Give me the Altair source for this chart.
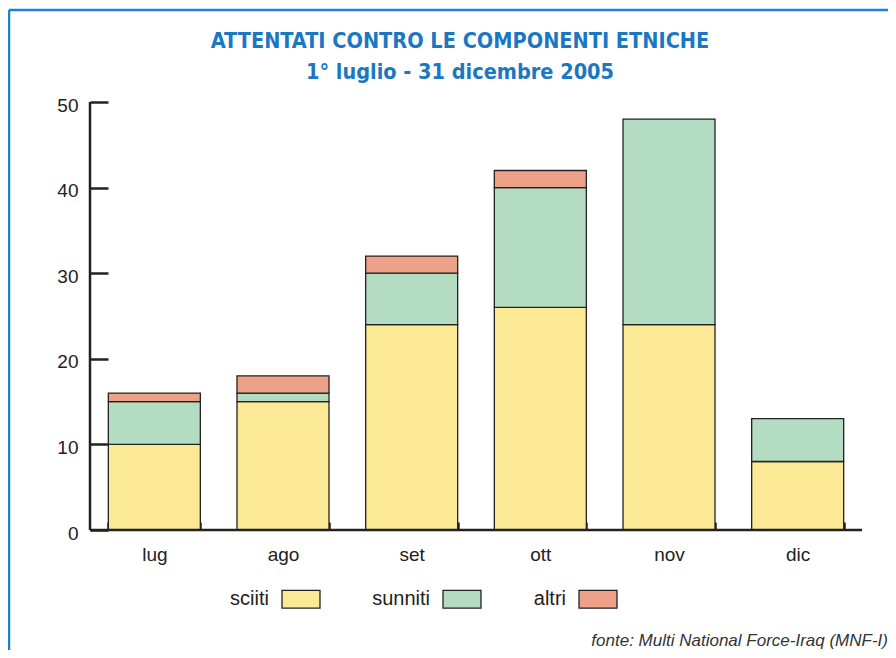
import altair as alt
import pandas as pd

mesi = ["lug", "ago", "set", "ott", "nov", "dic"]
sciiti = [10, 15, 24, 26, 24, 8]
sunniti = [5, 1, 6, 14, 24, 5]
altri = [1, 2, 2, 2, 0, 0]
gruppi = ["sciiti", "sunniti", "altri"]
colori = ["#fce996", "#b4dcc2", "#eda189"]
y_ticks = [0, 10, 20, 30, 40, 50]
titolo = ["ATTENTATI CONTRO LE COMPONENTI ETNICHE", "1° luglio - 31 dicembre 2005"]
fonte = ["fonte: Multi National Force-Iraq (MNF-I)"]

rows = []
for i, m in enumerate(mesi):
    for j, (g, vals) in enumerate(zip(gruppi, [sciiti, sunniti, altri])):
        if vals[i] > 0:
            rows.append({"mese": m, "gruppo": g, "valore": vals[i], "ordine": j})
df = pd.DataFrame(rows)
one = pd.DataFrame({"k": [0]})

W, H = 772, 428
BLUE = "#1f82c8"
DARK = "#222222"
FONT = "Liberation Sans"
TFONT = "Liberation Sans Narrow, DejaVu Sans Condensed, Roboto Condensed, sans-serif"

bars = alt.Chart(df).mark_bar(stroke=DARK, strokeWidth=1.3).encode(
    x=alt.X("mese:N", sort=mesi,
            scale=alt.Scale(paddingInner=0.285, paddingOuter=0.1425),
            axis=alt.Axis(orient="bottom", offset=-8, tickSize=8, tickWidth=2.5,
                          tickColor=DARK, tickBand="extent", domain=False,
                          labelAngle=0, labelFont=FONT, labelFontSize=19,
                          labelColor=DARK, labelPadding=15, title=None)),
    y=alt.Y("valore:Q", stack="zero",
            scale=alt.Scale(domain=[0, 50], nice=False),
            axis=alt.Axis(orient="left", offset=-18, tickSize=18, tickWidth=2.5,
                          tickColor=DARK, values=y_ticks, domain=False, grid=False,
                          labelFont=FONT, labelFontSize=19, labelColor=DARK,
                          labelPadding=12, labelOffset=3, title=None)),
    color=alt.Color("gruppo:N", sort=gruppi,
                    scale=alt.Scale(domain=gruppi, range=colori),
                    legend=alt.Legend(orient="none", legendX=191, legendY=477,
                                      direction="horizontal", title=None,
                                      symbolType="M-1,-0.47H1V0.47H-1Z",
                                      symbolSize=1444, symbolStrokeColor=DARK,
                                      symbolStrokeWidth=1.3, symbolOpacity=1,
                                      labelAlign="right",
                                      labelOffset=alt.ExprRef("-52"),
                                      labelFont=FONT, labelFontSize=20,
                                      labelColor=DARK, columnPadding=49,
                                      padding=0)),
    order=alt.Order("ordine:Q", sort="ascending"),
)

xdom = alt.Chart(one).mark_rule(color=DARK, strokeWidth=2.5).encode(y=alt.datum(0))
ydom = alt.Chart(one).mark_rule(color=DARK, strokeWidth=2.5).encode(x=alt.value(0))

border_top = alt.Chart(one).mark_rule(color=BLUE, strokeWidth=2.5).encode(
    x=alt.value(-81), x2=alt.value(798), y=alt.value(-92))
border_left = alt.Chart(one).mark_rule(color=BLUE, strokeWidth=2.5).encode(
    x=alt.value(-81), y=alt.value(-92), y2=alt.value(548))

title1 = alt.Chart(pd.DataFrame({"t": [titolo[0]]})).mark_text(
    align="center", baseline="middle", font=TFONT, fontWeight="bold",
    fontSize=21.5, color="#1a78c2").encode(
    x=alt.value(370), y=alt.value(-60), text="t:N")
title2 = alt.Chart(pd.DataFrame({"t": [titolo[1]]})).mark_text(
    align="center", baseline="middle", font=TFONT, fontWeight="bold",
    fontSize=21.5, color="#1a78c2").encode(
    x=alt.value(370), y=alt.value(-29), text="t:N")

source = alt.Chart(pd.DataFrame({"fonte": fonte})).mark_text(
    align="right", baseline="middle", font=FONT, fontStyle="italic",
    fontSize=17, color="#333333").encode(
    x=alt.value(798), y=alt.value(539), text="fonte:N")

chart = alt.layer(bars, xdom, ydom, border_top, border_left,
                  title1, title2, source).properties(
    width=W, height=H,
    padding={"left": 82, "top": 94, "right": 26, "bottom": 120},
    autosize=alt.AutoSizeParams(type="none"),
).configure_view(stroke=None)

chart.save("out.html", embed_options={"renderer": "svg", "actions": False})
